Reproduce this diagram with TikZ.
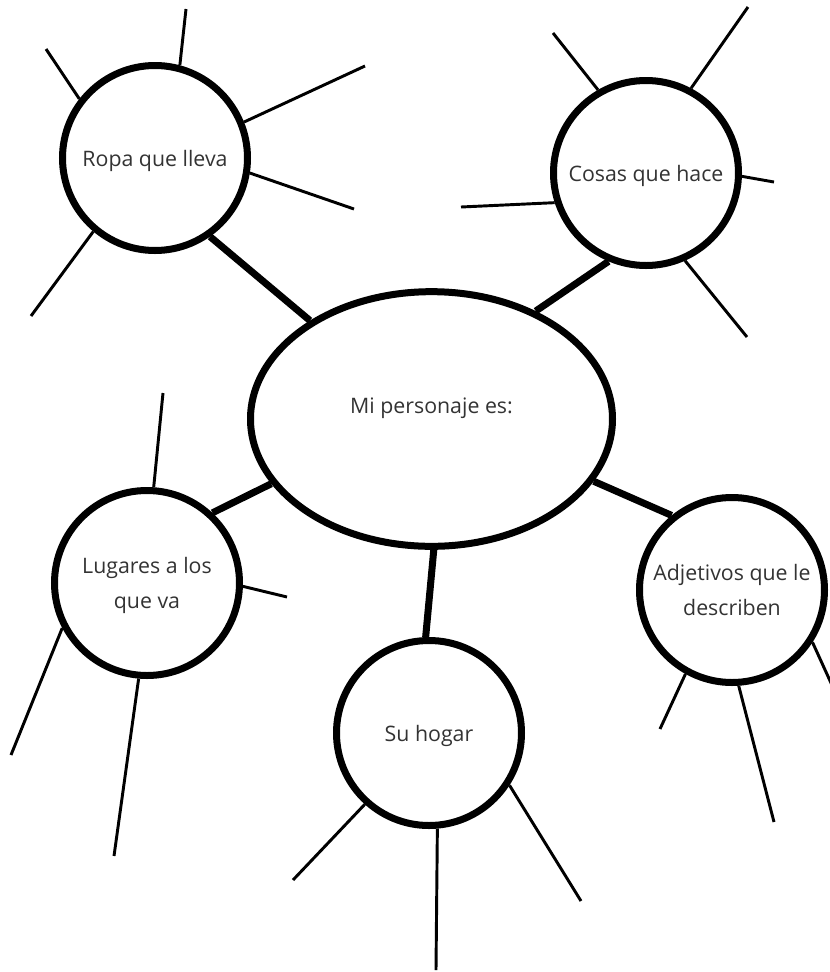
\documentclass[tikz,border=0pt]{standalone}
\usepackage{fontspec}
\setsansfont{Open Sans}
\usepackage{xcolor}
\usepackage{tikz}
\usetikzlibrary{positioning, shapes.geometric}
\definecolor{txtgray}{HTML}{333333}

\begin{document}
\begin{tikzpicture}[
    x=0.75pt, y=-0.75pt,
    % GLOBAL CFG
    font=\sffamily\fontsize{16}{26}\selectfont,
    % Styles
    core/.style={% For the main ellipse
        ellipse,
        draw,
        line width=5.25pt,
        minimum width=271.5pt,
        minimum height=191pt,
        inner sep=0pt,
        },
    bubble/.style={% For the topic circles
        circle,
        draw,
        line width=5.25pt,
        minimum size=138.75pt,
        inner sep=0pt,
        align=center,
        text depth=0pt,
        text=txtgray,
        },
    mylabel/.style={% Plain text
        text=txtgray,
        },
    Branch/.style={% Thick links to the ellipse
        line width=5.25pt,
        },
    Spoke/.style={% Thin lines to write on
        line width=2.2pt,
        },
    ]
    \useasboundingbox (0,0) rectangle (830,972);

    % Draw the main ellipse
    \node [core] (main) at (431.5,419) {};
    \node [mylabel] (maintxt) at (431.5,408) {Mi personaje es:};

    % Draw the bubbles
    \node [bubble] (ropa) at (155,158) {Ropa que lleva};
    \node [bubble] (cosas) at (646,173) {Cosas que hace};
    \node [bubble] (lugares) at (147,583) {Lugares a los\\que va};
    \node [bubble] (hogar) at (429,733) {Su hogar};
    \node [bubble] (adjetivos) at (732,590) {Adjetivos que le\\describen};

    % Free ends of the spokes
    \coordinate (ropa-e1) at (46,49);
    \coordinate (ropa-e2) at (186,9);
    \coordinate (ropa-e3) at (365,66);
    \coordinate (ropa-e4) at (354,209);
    \coordinate (ropa-e5) at (31,316);
    \coordinate (cosas-e1) at (553,33);
    \coordinate (cosas-e2) at (748,7);
    \coordinate (cosas-e3) at (774,182);
    \coordinate (cosas-e4) at (461,207);
    \coordinate (cosas-e5) at (747,337);
    \coordinate (lugares-e1) at (163,393);
    \coordinate (lugares-e2) at (287,597);
    \coordinate (lugares-e3) at (11,755);
    \coordinate (lugares-e4) at (114,856);
    \coordinate (hogar-e1) at (293,880);
    \coordinate (hogar-e2) at (436,970);
    \coordinate (hogar-e3) at (581,901);
    \coordinate (adjetivos-e1) at (660,729);
    \coordinate (adjetivos-e2) at (774,822);
    \coordinate (adjetivos-e3) at (836,694);

    % Connect bubbles to the ellipse
    \draw [Branch] (main.141) -- (ropa.-55);
    \draw [Branch] (main.46) -- (cosas.247);
    \draw [Branch] (main.202) -- (lugares.47);
    \draw [Branch] (main.-89) -- (hogar.92);
    \draw [Branch] (main.-21) -- (adjetivos.129);

    % Spokes
    \foreach \a/\e in {142/1, 75/2, 22/3, -9/4, 230/5}
        \draw [Spoke] (ropa.\a) -- (ropa-e\e);
    \foreach \a/\e in {120/1, 62/2, -2/3, 198/4, -66/5}
        \draw [Spoke] (cosas.\a) -- (cosas-e\e);
    \foreach \a/\e in {86/1, -2/2, 208/3, 265/4}
        \draw [Spoke] (lugares.\a) -- (lugares-e\e);
    \foreach \a/\e in {228/1, 275/2, 327/3}
        \draw [Spoke] (hogar.\a) -- (hogar-e\e);
    \foreach \a/\e in {241/1, 274/2, 327/3}
        \draw [Spoke] (adjetivos.\a) -- (adjetivos-e\e);

\end{tikzpicture}
\end{document}
